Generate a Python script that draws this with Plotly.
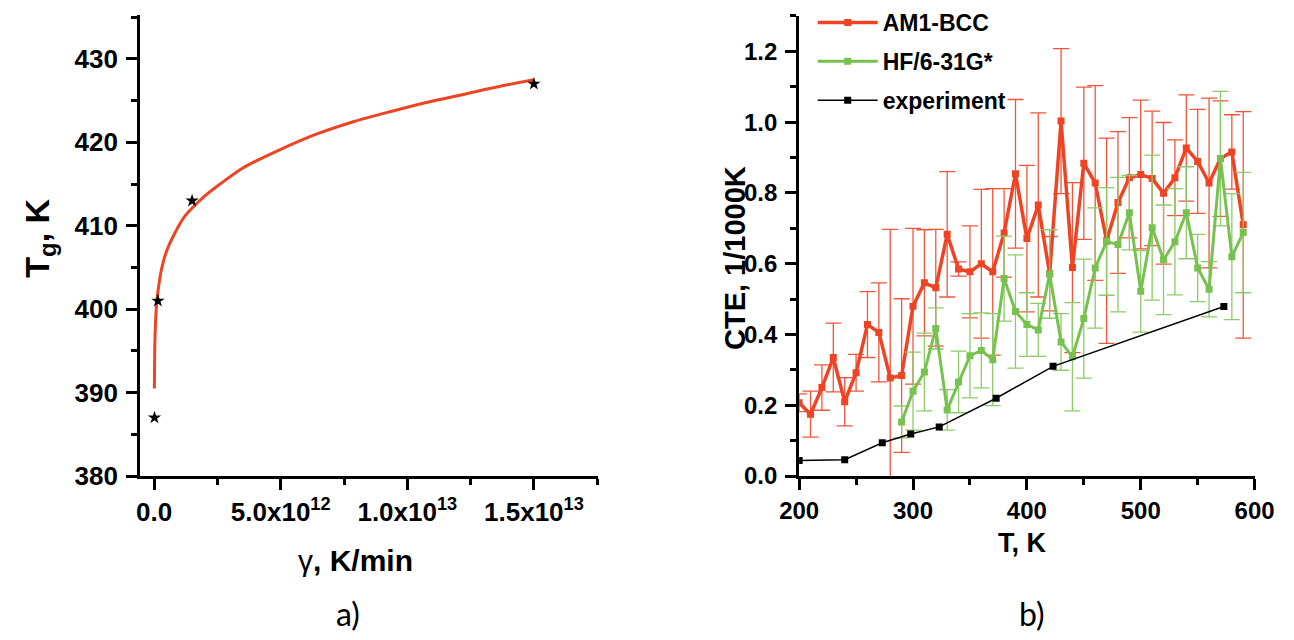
import plotly.graph_objects as go

# ---------------- Panel a) data ----------------
gamma_pts = [1.5e10, 1.5e11, 1.5e12, 1.5e13]
tg_pts = [387, 401, 413, 427]
fit_gamma = [1.0e10, 2.3e10, 5.0e10, 1.0e11, 1.76e11, 3.06e11, 4.97e11, 8.15e11, 1.2e12,
             1.71e12, 2.03e12, 2.32e12, 3.49e12, 4.96e12, 6.43e12, 7.9e12, 9.36e12,
             1.08e13, 1.23e13, 1.38e13, 1.5e13]
fit_tg = [390.5, 394.9, 398.0, 400.7, 402.7, 405.0, 407.0, 409.1, 411.1,
          412.75, 413.65, 414.35, 416.9, 419.1, 421.0, 422.5, 423.7,
          424.8, 425.8, 426.8, 427.5]
a_xtickvals = [0, 5e12, 1e13, 1.5e13]
a_xticktext = ["0.0", "5.0x10<sup>12</sup>", "1.0x10<sup>13</sup>", "1.5x10<sup>13</sup>"]

# ---------------- Panel b) data ----------------
T_am1 = [200, 210, 220, 230, 240, 250, 260, 270, 280, 290, 300, 310, 320, 330, 340, 350,
         360, 370, 380, 390, 400, 410, 420, 430, 440, 450, 460, 470, 480, 490, 500, 510,
         520, 530, 540, 550, 560, 570, 580, 590]
cte_am1 = [0.207, 0.175, 0.25, 0.335, 0.21, 0.292, 0.428, 0.406, 0.277, 0.284, 0.48, 0.546,
           0.532, 0.683, 0.585, 0.577, 0.60, 0.577, 0.687, 0.854, 0.671, 0.766, 0.572, 1.003,
           0.589, 0.884, 0.828, 0.665, 0.773, 0.843, 0.852, 0.841, 0.799, 0.843, 0.927, 0.889,
           0.828, 0.897, 0.916, 0.71]
err_am1 = [0.025, 0.065, 0.064, 0.097, 0.068, 0.052, 0.093, 0.14, 0.42, 0.217, 0.22, 0.15,
           0.165, 0.177, 0.02, 0.13, 0.21, 0.235, 0.125, 0.21, 0.207, 0.26, 0.105, 0.205,
           0.24, 0.215, 0.275, 0.29, 0.2, 0.17, 0.21, 0.19, 0.2, 0.107, 0.15, 0.147,
           0.24, 0.163, 0.105, 0.32]

T_hf = [290, 300, 310, 320, 330, 340, 350, 360, 370, 380, 390, 400, 410, 420, 430, 440,
        450, 460, 470, 480, 490, 500, 510, 520, 530, 540, 550, 560, 570, 580, 590]
cte_hf = [0.153, 0.24, 0.294, 0.417, 0.187, 0.266, 0.34, 0.355, 0.329, 0.558, 0.465, 0.428,
          0.413, 0.571, 0.379, 0.337, 0.445, 0.588, 0.663, 0.654, 0.744, 0.522, 0.702, 0.611,
          0.662, 0.744, 0.588, 0.528, 0.897, 0.62, 0.688]
err_hf = [0.045, 0.11, 0.11, 0.058, 0.057, 0.087, 0.119, 0.106, 0.13, 0.12, 0.16, 0.09,
          0.075, 0.125, 0.08, 0.153, 0.168, 0.17, 0.152, 0.19, 0.105, 0.115, 0.205, 0.155,
          0.15, 0.13, 0.095, 0.078, 0.19, 0.178, 0.17]

T_exp = [200, 240, 273, 298, 323, 373, 423, 573]
cte_exp = [0.044, 0.046, 0.094, 0.119, 0.139, 0.220, 0.310, 0.479]

RED = "#EE4424"
RED_ERR = "#F2553A"
GREEN = "#77C24E"
GREEN_ERR = "#8CCB67"
FONT = "Liberation Sans"

fig = go.Figure()

# Panel a
fig.add_trace(go.Scatter(x=fit_gamma, y=fit_tg, mode="lines",
                         line=dict(color=RED, width=3, shape="spline", smoothing=0.8),
                         xaxis="x", yaxis="y", showlegend=False))
fig.add_trace(go.Scatter(x=gamma_pts, y=tg_pts, mode="markers",
                         marker=dict(symbol="star", size=10, color="black"),
                         xaxis="x", yaxis="y", showlegend=False, cliponaxis=False))

# Panel b
fig.add_trace(go.Scatter(x=T_am1, y=cte_am1, mode="lines+markers", name="AM1-BCC",
                         line=dict(color=RED, width=3.5),
                         marker=dict(symbol="square", size=7, color=RED),
                         error_y=dict(type="data", array=err_am1, color=RED_ERR, thickness=1.3, width=8),
                         xaxis="x2", yaxis="y2", legendgroup="a"))
fig.add_trace(go.Scatter(x=T_hf, y=cte_hf, mode="lines+markers", name="HF/6-31G*",
                         line=dict(color=GREEN, width=3),
                         marker=dict(symbol="square", size=7, color=GREEN),
                         error_y=dict(type="data", array=err_hf, color=GREEN_ERR, thickness=1.3, width=8),
                         xaxis="x2", yaxis="y2", legendgroup="b"))
fig.add_trace(go.Scatter(x=T_exp, y=cte_exp, mode="lines+markers", name="experiment",
                         line=dict(color="black", width=1.5),
                         marker=dict(symbol="square", size=7, color="black"),
                         xaxis="x2", yaxis="y2", legendgroup="c"))

W, H = 1294, 640
def px(v):
    return v / W
def py(v):
    return 1 - v / H

def axis_common(size):
    return dict(showline=True, linewidth=3, linecolor="black", mirror=False,
                ticks="outside", ticklen=11, tickwidth=3, tickcolor="black",
                showgrid=False, zeroline=False, ticklabeloverflow="allow",
                tickfont=dict(family=FONT, size=size, color="black", weight="bold"))

minor_style = dict(ticks="outside", ticklen=6, tickwidth=3, tickcolor="black")

def ann(text, x, y, size, angle=0, family=FONT, bold=True):
    f = dict(family=family, size=size, color="black")
    if bold:
        f["weight"] = "bold"
    return dict(text=text, x=px(x), y=py(y), xref="paper", yref="paper",
                xanchor="center", yanchor="middle", textangle=angle,
                showarrow=False, font=f)

fig.update_layout(
    width=W, height=H, margin=dict(l=0, r=0, t=0, b=0),
    paper_bgcolor="white", plot_bgcolor="white",
    xaxis=dict(domain=[px(124), px(596)], anchor="y", range=[-5.51e11, 1.7515e13],
               tickvals=a_xtickvals, ticktext=a_xticktext,
               minor=dict(tickvals=[2.5e12, 7.5e12, 1.25e13, 1.75e13], **minor_style),
               **axis_common(26)),
    yaxis=dict(domain=[py(487.5), py(15)], anchor="x", range=[380, 435.3], dtick=10, tick0=380,
               minor=dict(dtick=5, tick0=380, **minor_style),
               ticklabelstandoff=3,
               **axis_common(26)),
    xaxis2=dict(domain=[px(804), px(1274)], anchor="y2", range=[200, 600], dtick=100, tick0=200,
                minor=dict(dtick=50, tick0=200, **minor_style),
                **axis_common(24)),
    yaxis2=dict(domain=[py(487.5), py(16)], anchor="x2", range=[0, 1.301], dtick=0.2, tick0=0,
                tickformat=".1f",
                minor=dict(dtick=0.1, tick0=0, **minor_style),
                ticklabelstandoff=3,
                **axis_common(24)),
    legend=dict(x=px(818), y=py(1), xanchor="left", yanchor="top",
                bgcolor="rgba(0,0,0,0)", borderwidth=0, itemwidth=60, tracegroupgap=6,
                font=dict(family=FONT, size=23, color="black", weight="bold")),
    annotations=[
        ann("T<sub>g</sub>, K", 20, 244, 34, angle=-90),
        ann("<span style='font-weight:normal'>γ</span>, K/min", 346, 574, 30),
        ann("a)", 338, 628, 32, family="Lato", bold=False),
        ann("CTE, 1/1000K", 738, 264, 29, angle=-90),
        ann("T, K", 1034, 556, 27),
        ann("b)", 1044, 628, 32, family="Lato", bold=False),
    ],
)

fig.write_html("out.html", config={"displayModeBar": False},
               post_script="document.body.style.margin='0';")
